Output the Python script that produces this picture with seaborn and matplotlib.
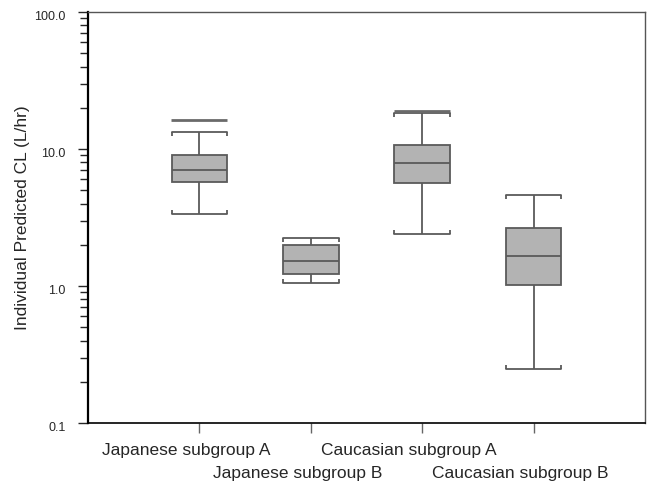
import numpy as np
import pandas as pd
import matplotlib
matplotlib.use('Agg')
import matplotlib.pyplot as plt
import seaborn as sns
from matplotlib.ticker import LogLocator, FuncFormatter, NullFormatter, FixedLocator
from matplotlib.transforms import ScaledTranslation

# 数据: 五数概括 (最小, Q1, 中位数, Q3, 最大)
groups = ['Japanese subgroup A', 'Japanese subgroup B',
          'Caucasian subgroup A', 'Caucasian subgroup B']
cl_min = [3.35, 1.05, 2.40, 0.248]
cl_q1 = [5.74, 1.22, 5.65, 1.02]
cl_med = [7.03, 1.52, 7.9, 1.66]
cl_q3 = [9.04, 1.99, 10.7, 2.65]
cl_max = [13.3, 2.24, 18.3, 4.62]
# 上须之上的单独标记线
cl_extra = [16.3, np.nan, 19.1, np.nan]

rows = []
for g, a, b, c, d, e in zip(groups, cl_min, cl_q1, cl_med, cl_q3, cl_max):
    for v in (a, b, c, d, e):
        rows.append({'group': g, 'cl': v})
df = pd.DataFrame(rows)

sns.set_style('white')
plt.rcParams['font.family'] = ['Liberation Sans', 'DejaVu Sans']

fig = plt.figure(figsize=(6.47, 4.82), dpi=100)
ax = fig.add_axes([0.136, 0.1224, 0.861, 0.8527])

sns.boxplot(data=df, x='group', y='cl', order=groups, log_scale=True,
            whis=(0, 100), width=0.5, color='#b3b3b3', saturation=1,
            linecolor='#5a5a5a', linewidth=1.3, fliersize=0, capwidths=0.5, ax=ax)

# 须末端的小括号
for ln in list(ax.lines):
    xs, ys = ln.get_xdata(), ln.get_ydata()
    if len(xs) == 2 and xs[0] == xs[1] and ys[0] != ys[1]:
        x, y = xs[1], ys[1]
        mk = 3 if ys[1] > ys[0] else 2
        ax.plot([x - 0.25, x + 0.25], [y, y], ls='none', marker=mk, ms=3,
                mew=1.3, color='#5a5a5a')

sns.stripplot(x=groups, y=cl_extra, order=groups, marker='_', size=40,
              jitter=False, color='#6a6a6a', linewidth=2, log_scale=True, ax=ax)

ax.set_ylim(0.1, 100)
ax.set_xlim(-1, 4)
ax.yaxis.set_major_locator(FixedLocator([0.1, 1, 10, 100]))
ax.yaxis.set_major_formatter(FuncFormatter(lambda v, p: f'{v:.1f}'))
ax.yaxis.set_minor_locator(LogLocator(base=10, subs=np.arange(2, 10)))
ax.yaxis.set_minor_formatter(NullFormatter())

ax.set_xticks(range(len(groups)))
ax.set_xticklabels(groups)
ax.set_xlabel('')
ax.set_ylabel('Individual Predicted CL (L/hr)', fontsize=12.5, labelpad=3)

ax.tick_params(axis='y', which='major', direction='out', length=7, width=1,
               pad=9, labelsize=9, left=True)
ax.tick_params(axis='y', which='minor', direction='out', length=6, width=1, left=True)
ax.tick_params(axis='x', direction='out', length=7, width=1, color='#666666',
               pad=7.5, labelsize=12.5, bottom=True)

# 标签交错排列
for i, lab in enumerate(ax.get_xticklabels()):
    dy = -23 / 100 if i % 2 else 0
    lab.set_transform(lab.get_transform() + ScaledTranslation(-13 / 100, dy, fig.dpi_scale_trans))
for lab in ax.get_yticklabels():
    lab.set_transform(lab.get_transform() + ScaledTranslation(0, -3 / 100, fig.dpi_scale_trans))

ax.spines['left'].set_linewidth(1.6)
ax.spines['left'].set_color('black')
ax.spines['bottom'].set_linewidth(1.2)
ax.spines['bottom'].set_color('black')
for s in ['top', 'right']:
    ax.spines[s].set_linewidth(1)
    ax.spines[s].set_color('#555555')

plt.savefig('out.png', dpi=100)
